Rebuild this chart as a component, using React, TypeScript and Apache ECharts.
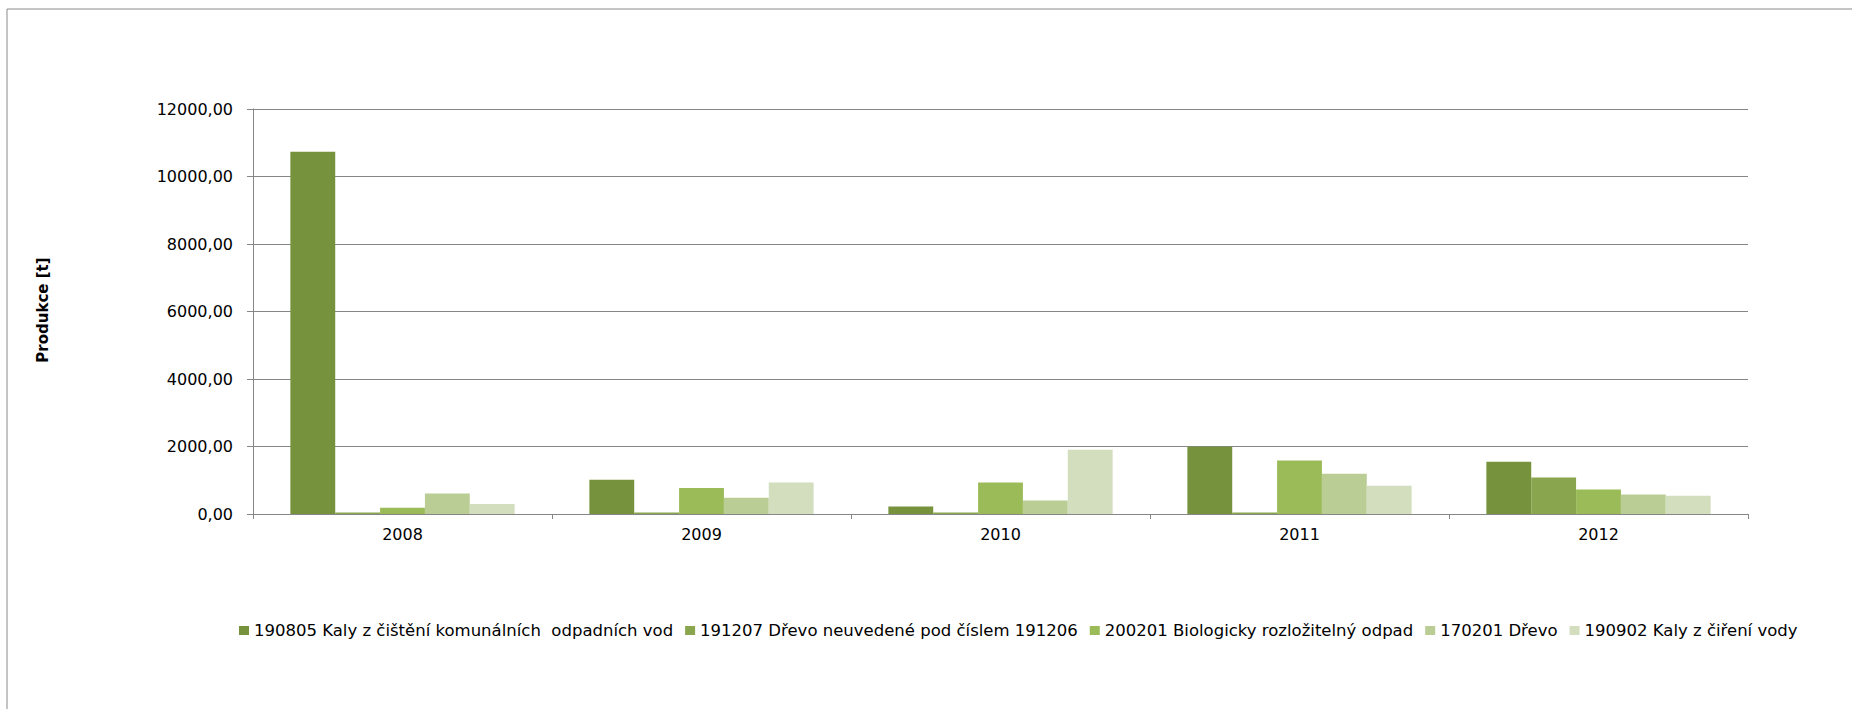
import React, { useEffect, useRef } from "react";
import * as echarts from "echarts";

const categories = ["2008", "2009", "2010", "2011", "2012"];
const seriesNames = [
  "190805 Kaly z čištění komunálních  odpadních vod",
  "191207 Dřevo neuvedené pod číslem 191206",
  "200201 Biologicky rozložitelný odpad",
  "170201 Dřevo",
  "190902 Kaly z čiření vody",
];
const kalyKomunalni = [10730, 1015, 225, 1995, 1548];
const drevoNeuvedene = [45, 45, 45, 45, 1084];
const biologicky = [187, 769, 935, 1587, 728];
const drevo = [610, 482, 403, 1193, 580];
const kalyCireni = [296, 935, 1903, 838, 542];
const seriesValues = [kalyKomunalni, drevoNeuvedene, biologicky, drevo, kalyCireni];
const colors = ["#76923C", "#89A54E", "#9BBB59", "#BACD95", "#D2DEBE"];
const yTicks = { min: 0, max: 12000, interval: 2000 };
const yTitle = "Produkce [t]";

export default function App() {
  const ref = useRef<HTMLDivElement>(null);
  useEffect(() => {
    if (!ref.current) return;
    const chart = echarts.init(ref.current, null, { renderer: "svg" });
    chart.setOption({
      animation: false,
      backgroundColor: "#ffffff",
      grid: { left: 253, right: 104, top: 109, bottom: 195, containLabel: false },
      graphic: [
        {
          type: "rect",
          shape: { x: 7, y: 9, width: 2000, height: 1000 },
          style: { fill: "none", stroke: "#8a8a8a", lineWidth: 1 },
          silent: true,
        },
        {
          type: "text",
          x: 43,
          y: 310,
          rotation: Math.PI / 2,
          style: {
            text: yTitle,
            fontFamily: "DejaVu Sans",
            fontWeight: "bold",
            fontSize: 15,
            fill: "#000",
            align: "center",
            verticalAlign: "middle",
          },
        },
      ],
      legend: {
        left: 234,
        top: 617,
        itemWidth: 10,
        itemHeight: 9,
        itemGap: 12,
        icon: "rect",
        textStyle: { fontFamily: "DejaVu Sans", fontSize: 16.5, color: "#000" },
        data: seriesNames,
      },
      xAxis: {
        type: "category",
        data: categories,
        axisLine: { lineStyle: { color: "#868686", width: 1 } },
        axisTick: { show: true, interval: 0, length: 5, lineStyle: { color: "#868686" } },
        axisLabel: { fontFamily: "DejaVu Sans", fontSize: 16, color: "#000", margin: 12 },
        splitLine: { show: false },
      },
      yAxis: {
        type: "value",
        min: yTicks.min,
        max: yTicks.max,
        interval: yTicks.interval,
        axisLine: { show: true, lineStyle: { color: "#868686", width: 1 } },
        axisTick: { show: true, length: 6, lineStyle: { color: "#868686" } },
        axisLabel: {
          fontFamily: "DejaVu Sans",
          fontSize: 16,
          color: "#000",
          margin: 20,
          formatter: (v: number) => v.toFixed(2).replace(".", ","),
        },
        splitLine: { show: true, lineStyle: { color: "#868686", width: 1 } },
      },
      series: seriesNames.map((name, i) => ({
        name,
        type: "bar",
        data: seriesValues[i],
        barGap: "0%",
        barCategoryGap: "25%",
        itemStyle: { color: colors[i] },
      })),
    });
    return () => chart.dispose();
  }, []);
  return (
    <div
      ref={ref}
      style={{ position: "fixed", left: 0, top: 0, width: 1852, height: 709 }}
    />
  );
}
